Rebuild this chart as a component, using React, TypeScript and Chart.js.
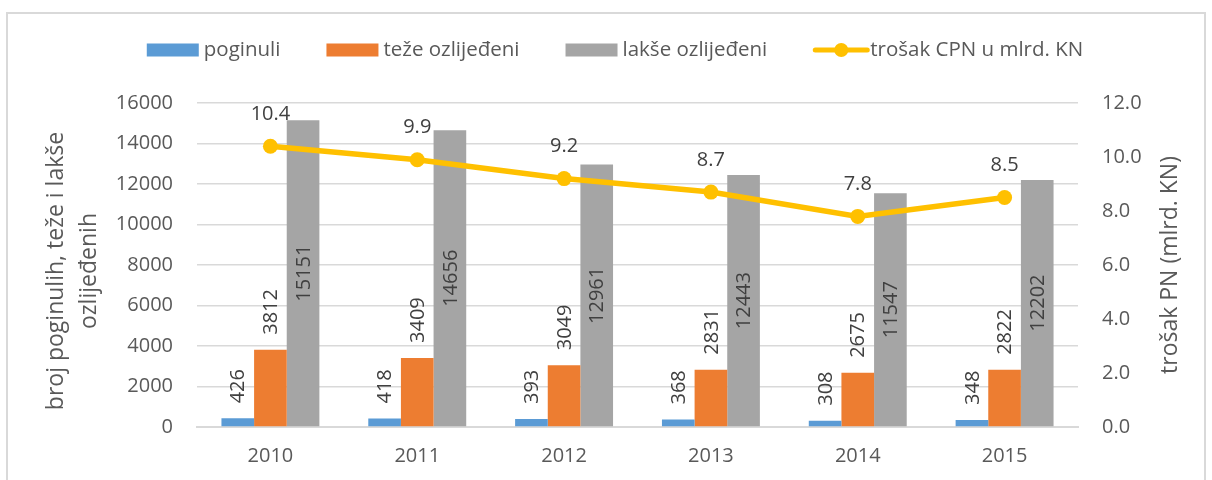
import React, { useEffect, useRef } from "react";
import { Chart, registerables } from "chart.js";

Chart.register(...registerables);

const years = ["2010", "2011", "2012", "2013", "2014", "2015"];
const poginuli = [426, 418, 393, 368, 308, 348];
const tezeOzlijedeni = [3812, 3409, 3049, 2831, 2675, 2822];
const lakseOzlijedeni = [15151, 14656, 12961, 12443, 11547, 12202];
const trosakCPN = [10.4, 9.9, 9.2, 8.7, 7.8, 8.5];
const seriesNames = ["poginuli", "teže ozlijeđeni", "lakše ozlijeđeni", "trošak CPN u mlrd. KN"];
const seriesColors = ["#5B9BD5", "#ED7D31", "#A5A5A5", "#FFC000"];
const leftAxisTitle = ["broj poginulih, teže i lakše", "ozlijeđenih"];
const rightAxisTitle = "trošak PN (mlrd. KN)";
const leftMax = 16000;
const leftStep = 2000;
const rightMax = 12;
const rightStep = 2;

const FONT = "'Open Sans', 'Noto Sans', sans-serif";
const TICK_COLOR = "#595959";
const LABEL_COLOR = "#404040";
const GRID_COLOR = "#d9d9d9";

const framePlugin = {
  id: "frame",
  beforeDraw(chart: any) {
    const ctx = chart.ctx;
    ctx.save();
    ctx.fillStyle = "#ffffff";
    ctx.fillRect(0, 0, chart.width, chart.height);
    ctx.strokeStyle = GRID_COLOR;
    ctx.lineWidth = 2;
    ctx.strokeRect(7, 13, 1198, 520);
    ctx.restore();
  },
};

const legendPlugin = {
  id: "customLegend",
  afterDraw(chart: any) {
    const ctx = chart.ctx;
    ctx.save();
    ctx.font = `20.5px ${FONT}`;
    const boxW = 52;
    const boxH = 13;
    const gapText = 5;
    const gapItem = 46;
    const widths = seriesNames.map((n) => boxW + gapText + ctx.measureText(n).width);
    const total = widths.reduce((a, b) => a + b, 0) + gapItem * (seriesNames.length - 1);
    let x = 615 - total / 2;
    const cy = 50;
    seriesNames.forEach((name, i) => {
      const color = seriesColors[i];
      if (i < 3) {
        ctx.fillStyle = color;
        ctx.fillRect(x, cy - boxH / 2, boxW, boxH);
      } else {
        ctx.strokeStyle = color;
        ctx.lineWidth = 5;
        ctx.lineCap = "round";
        ctx.beginPath();
        ctx.moveTo(x + 2, cy);
        ctx.lineTo(x + boxW + 2, cy);
        ctx.stroke();
        ctx.fillStyle = color;
        ctx.beginPath();
        ctx.arc(x + boxW / 2 + 2, cy, 7, 0, Math.PI * 2);
        ctx.fill();
      }
      ctx.fillStyle = TICK_COLOR;
      ctx.textAlign = "left";
      ctx.textBaseline = "middle";
      ctx.fillText(name, x + boxW + gapText, cy);
      x += widths[i] + gapItem;
    });
    ctx.restore();
  },
};

const titlesPlugin = {
  id: "axisTitles",
  afterDraw(chart: any) {
    const ctx = chart.ctx;
    const area = chart.chartArea;
    const cy = (area.top + area.bottom) / 2;
    ctx.save();
    ctx.font = `23px ${FONT}`;
    ctx.fillStyle = TICK_COLOR;
    ctx.textAlign = "center";
    ctx.textBaseline = "middle";
    leftAxisTitle.forEach((line, i) => {
      ctx.save();
      ctx.translate(56 + i * 33, cy + 6);
      ctx.rotate(-Math.PI / 2);
      ctx.fillText(line, 0, 0);
      ctx.restore();
    });
    ctx.save();
    ctx.translate(1170, cy);
    ctx.rotate(-Math.PI / 2);
    ctx.fillText(rightAxisTitle, 0, 0);
    ctx.restore();
    ctx.restore();
  },
};

const dataLabelsPlugin = {
  id: "dataLabels",
  afterDatasetsDraw(chart: any) {
    const ctx = chart.ctx;
    ctx.save();
    ctx.font = `20px ${FONT}`;
    ctx.fillStyle = LABEL_COLOR;
    ctx.textBaseline = "middle";
    [0, 1, 2].forEach((di) => {
      const meta = chart.getDatasetMeta(di);
      const data = chart.data.datasets[di].data;
      meta.data.forEach((el: any, i: number) => {
        const { x, y, base } = el.getProps(["x", "y", "base"], true);
        ctx.save();
        if (di === 2) {
          ctx.translate(x + 1, (y + base) / 2);
          ctx.rotate(-Math.PI / 2);
          ctx.textAlign = "center";
        } else {
          ctx.translate(x + 1, y - 15);
          ctx.rotate(-Math.PI / 2);
          ctx.textAlign = "left";
        }
        ctx.fillText(String(data[i]), 0, 0);
        ctx.restore();
      });
    });
    const lmeta = chart.getDatasetMeta(3);
    const ldata = chart.data.datasets[3].data;
    ctx.textAlign = "center";
    lmeta.data.forEach((el: any, i: number) => {
      const { x, y } = el.getProps(["x", "y"], true);
      ctx.fillText(Number(ldata[i]).toFixed(1), x, y - 32);
    });
    ctx.restore();
  },
};

export default function App() {
  const canvasRef = useRef<HTMLCanvasElement | null>(null);

  useEffect(() => {
    if (!canvasRef.current) return;
    const chart = new Chart(canvasRef.current, {
      type: "bar",
      data: {
        labels: years,
        datasets: [
          {
            type: "bar",
            label: seriesNames[0],
            data: poginuli,
            backgroundColor: seriesColors[0],
            yAxisID: "y",
            order: 1,
          },
          {
            type: "bar",
            label: seriesNames[1],
            data: tezeOzlijedeni,
            backgroundColor: seriesColors[1],
            yAxisID: "y",
            order: 1,
          },
          {
            type: "bar",
            label: seriesNames[2],
            data: lakseOzlijedeni,
            backgroundColor: seriesColors[2],
            yAxisID: "y",
            order: 1,
          },
          {
            type: "line",
            label: seriesNames[3],
            data: trosakCPN,
            borderColor: seriesColors[3],
            backgroundColor: seriesColors[3],
            borderWidth: 5.5,
            pointRadius: 7.5,
            pointBorderWidth: 0,
            pointBackgroundColor: seriesColors[3],
            tension: 0,
            yAxisID: "y2",
            order: 0,
          } as any,
        ],
      },
      options: {
        responsive: false,
        animation: false,
        devicePixelRatio: 1,
        layout: { padding: { top: 103, left: 0, right: 0, bottom: 0 } },
        datasets: {
          bar: { categoryPercentage: 0.667, barPercentage: 1 },
        },
        plugins: {
          legend: { display: false },
          tooltip: { enabled: false },
        },
        scales: {
          x: {
            grid: { display: false, drawTicks: false },
            border: { display: true, color: GRID_COLOR, width: 2 },
            ticks: {
              color: TICK_COLOR,
              font: { family: FONT, size: 20 },
              padding: 17,
            },
            afterFit: (s: any) => {
              s.height = 53;
            },
          },
          y: {
            position: "left",
            min: 0,
            max: leftMax,
            ticks: {
              stepSize: leftStep,
              color: TICK_COLOR,
              font: { family: FONT, size: 20 },
              padding: 24,
              callback: (v: any) => String(v),
            },
            grid: { color: GRID_COLOR, lineWidth: 1.5, drawTicks: false },
            border: { display: false },
            afterFit: (s: any) => {
              s.width = 197;
            },
          },
          y2: {
            position: "right",
            min: 0,
            max: rightMax,
            ticks: {
              stepSize: rightStep,
              color: TICK_COLOR,
              font: { family: FONT, size: 20 },
              padding: 24,
              callback: (v: any) => Number(v).toFixed(1),
            },
            grid: { display: false, drawTicks: false },
            border: { display: false },
            afterFit: (s: any) => {
              s.width = 134;
            },
          },
        },
      } as any,
      plugins: [framePlugin, dataLabelsPlugin, legendPlugin, titlesPlugin],
    });
    return () => chart.destroy();
  }, []);

  return (
    <div style={{ position: "fixed", left: 0, top: 0, width: 1212, height: 480, background: "#fff" }}>
      <canvas ref={canvasRef} width={1212} height={480} style={{ display: "block", width: 1212, height: 480 }} />
    </div>
  );
}
